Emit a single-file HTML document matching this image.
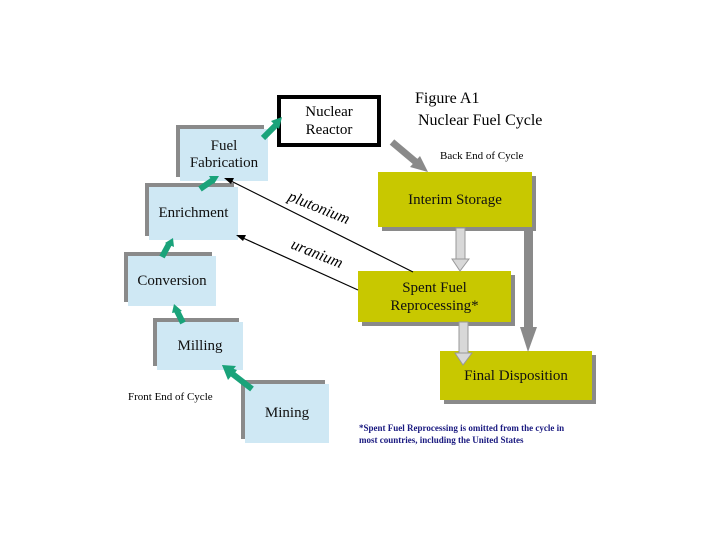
<!DOCTYPE html>
<html><head><style>
body{margin:0;width:720px;height:540px;background:#fff;position:relative;overflow:hidden;font-family:"Liberation Serif",serif}
.b{position:absolute;background:#cfe8f4;box-shadow:-4px -4px 0 #8a8a8a;text-align:center;font-size:15px;color:#111;display:flex;align-items:center;justify-content:center;line-height:17px}
.y{position:absolute;background:#c8c800;box-shadow:4px 4px 0 #8a8a8a;text-align:center;font-size:15px;color:#111;display:flex;align-items:center;justify-content:center;line-height:18px}
.t{position:absolute;white-space:nowrap}
</style></head><body>
<div class="b" style="left:180px;top:129px;width:88px;height:52px">Fuel<br>Fabrication</div>
<div class="b" style="left:149px;top:187px;width:89px;height:53px">Enrichment</div>
<div class="b" style="left:128px;top:256px;width:88px;height:50px">Conversion</div>
<div class="b" style="left:157px;top:322px;width:86px;height:48px">Milling</div>
<div class="b" style="left:245px;top:384px;width:84px;height:59px">Mining</div>
<div style="position:absolute;left:277px;top:95px;width:96px;height:44px;border:4px solid #000;background:#fff;text-align:center;font-size:15px;line-height:18px;display:flex;align-items:center;justify-content:center">Nuclear<br>Reactor</div>
<div class="y" style="left:378px;top:172px;width:154px;height:55px">Interim Storage</div>
<div class="y" style="left:358px;top:271px;width:153px;height:51px">Spent Fuel<br>Reprocessing*</div>
<div class="y" style="left:440px;top:351px;width:152px;height:49px">Final Disposition</div>
<svg width="720" height="540" style="position:absolute;left:0;top:0">
<g fill="#1aa37a">
<polygon points="250,390 232,375 228,380 222,365 237,370 234,374 252,388"/>
</g>
<g stroke="#1aa37a" stroke-width="6" fill="none">
<line x1="252" y1="389" x2="230" y2="372"/><line x1="183" y1="323" x2="177" y2="311"/><line x1="162" y1="257" x2="169" y2="244"/><line x1="200" y1="189" x2="213" y2="180"/><line x1="263" y1="138" x2="276" y2="125"/>
</g>
<g fill="#1aa37a">
<polygon points="222,365 236,366 228,376"/><polygon points="174,304 182,311 172,313"/><polygon points="173,238 174,247 165,243"/><polygon points="219,176 214,184 209,176"/><polygon points="282,117 279,129 271,121"/>
</g>
<line x1="392" y1="142" x2="417" y2="163" stroke="#8a8a8a" stroke-width="7"/>
<polygon points="428,172 410,167 420,156" fill="#8a8a8a"/>
<rect x="456" y="228" width="9" height="32" fill="#d8d8d8" stroke="#999"/>
<polygon points="452,259 469,259 460,271" fill="#d8d8d8" stroke="#999"/>
<rect x="459" y="322" width="9" height="32" fill="#d8d8d8" stroke="#999"/>
<polygon points="455,353 472,353 463,365" fill="#d8d8d8" stroke="#999"/>
<rect x="524" y="228" width="9" height="100" fill="#8a8a8a"/>
<polygon points="520,327 537,327 528,352" fill="#8a8a8a"/>
<line x1="413" y1="272" x2="231" y2="181" stroke="#000" stroke-width="1.2"/>
<polygon points="224,178 234,178 231,184" fill="#000"/>
<line x1="358" y1="290" x2="243" y2="238" stroke="#000" stroke-width="1.2"/>
<polygon points="236,235 246,235 243,241" fill="#000"/>
<text x="287" y="200" font-size="16" font-style="italic" transform="rotate(22 287 200)" font-family="Liberation Serif">plutonium</text>
<text x="290" y="248" font-size="16" font-style="italic" transform="rotate(22 290 248)" font-family="Liberation Serif">uranium</text>
</svg>
<div class="t" style="left:415px;top:90px;font-size:16px">Figure A1</div>
<div class="t" style="left:418px;top:112px;font-size:16px">Nuclear Fuel Cycle</div>
<div class="t" style="left:440px;top:150px;font-size:11px">Back End of Cycle</div>
<div class="t" style="left:128px;top:391px;font-size:11px">Front End of Cycle</div>
<div class="t" style="left:359px;top:422px;font-size:9px;font-weight:bold;color:#1a1a80;line-height:12px">*Spent Fuel Reprocessing is omitted from the cycle in<br>most countries, including the United States</div>
</body></html>
